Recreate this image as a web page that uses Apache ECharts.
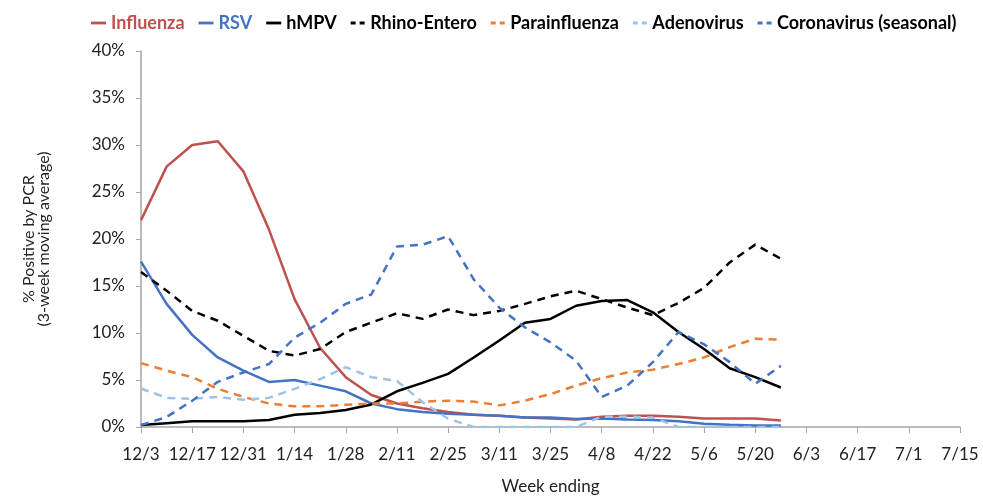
<!DOCTYPE html>
<html>
<head>
<meta charset="utf-8">
<script src="https://cdn.jsdelivr.net/npm/echarts@6/dist/echarts.min.js"></script>
<style>html,body{margin:0;padding:0;background:#fff;}#c{width:983px;height:500px;}</style>
</head>
<body>
<div id="c"></div>
<script>
var weeks = ['12/3','12/10','12/17','12/24','12/31','1/7','1/14','1/21','1/28','2/4','2/11','2/18','2/25','3/4','3/11','3/18','3/25','4/1','4/8','4/15','4/22','4/29','5/6','5/13','5/20','5/27','6/3','6/10','6/17','6/24','7/1','7/8','7/15'];
var yTicks = [0,5,10,15,20,25,30,35,40];
var influenza = [22.0,27.7,30.0,30.4,27.2,21.0,13.6,8.4,5.3,3.4,2.5,2.0,1.6,1.3,1.2,1.0,0.9,0.8,1.1,1.2,1.2,1.1,0.9,0.9,0.9,0.7];
var rsv = [17.6,13.1,9.8,7.4,6.0,4.8,5.0,4.4,3.8,2.5,1.9,1.6,1.4,1.3,1.2,1.0,1.0,0.85,0.9,0.8,0.74,0.6,0.35,0.25,0.17,0.17];
var hmpv = [0.2,0.4,0.6,0.6,0.6,0.74,1.3,1.5,1.8,2.4,3.8,4.7,5.65,7.4,9.2,11.1,11.5,12.9,13.4,13.5,12.2,10.1,8.3,6.25,5.3,4.2];
var rhino = [16.5,14.5,12.35,11.3,9.7,8.1,7.6,8.3,10.1,11.1,12.1,11.5,12.5,11.9,12.35,13.1,13.9,14.5,13.6,12.7,11.9,13.2,14.8,17.5,19.4,17.9];
var parainfluenza = [6.8,6.0,5.3,4.06,3.2,2.5,2.2,2.2,2.36,2.5,2.5,2.7,2.8,2.7,2.3,2.8,3.5,4.4,5.2,5.8,6.1,6.7,7.4,8.5,9.4,9.3];
var adenovirus = [4.1,3.1,3.0,3.2,2.9,3.1,4.06,5.1,6.36,5.3,4.9,2.65,0.88,0,0,0,0,0,1.1,1.1,1.0,0,0,0,0,0];
var coronavirus = [0.2,1.06,2.8,4.8,5.8,6.7,9.5,11.1,13.1,14.1,19.2,19.4,20.3,15.7,12.7,10.6,9.0,7.05,3.2,4.4,6.9,10.1,8.8,6.9,4.6,6.5];

var names = ['Influenza','RSV','hMPV','Rhino-Entero','Parainfluenza','Adenovirus','Coronavirus (seasonal)'];
var values = [influenza,rsv,hmpv,rhino,parainfluenza,adenovirus,coronavirus];
var colors = ['#C0504D','#4472C4','#000000','#000000','#ED7D31','#9DC3E6','#4472C4'];
var dashed = [false,false,false,true,true,true,true];
var legendTextColors = ['#C0504D','#4472C4','#000','#000','#000','#000','#000'];

var FONT = 'Lato, "Open Sans", sans-serif';
var SOLID_ICON = 'path://M0,0 L16,0 L16,3 L0,3 Z';
var DASH_ICON = 'path://M0,0 L5,0 L5,3 L0,3 Z M9,0 L14,0 L14,3 L9,3 Z';
var series = names.map(function(n,i){
  return {
    name: n, type: 'line', data: values[i], symbol: 'none', smooth: false,
    lineStyle: {color: colors[i], width: 2.5, type: dashed[i] ? [8,6] : 'solid'},
    itemStyle: {color: colors[i]}
  };
});

var chart = echarts.init(document.getElementById('c'));
chart.setOption({
  animation: false,
  backgroundColor: '#fff',
  color: colors,
  legend: {
    top: 9, left: 86, itemGap: 14, itemWidth: 15, itemHeight: 3,
    data: names.map(function(n,i){ return {name:n, icon: dashed[i] ? DASH_ICON : SOLID_ICON, textStyle:{color: legendTextColors[i]}}; }),
    textStyle: {fontFamily: FONT, fontSize: 18, fontWeight: 'bold', padding:[0,0,0,0]}
  },
  grid: {left: 141, right: 23, top: 51, bottom: 72, containLabel: false},
  xAxis: {
    type: 'category', data: weeks, boundaryGap: false,
    name: 'Week ending', nameLocation: 'middle', nameGap: 51,
    nameTextStyle: {fontFamily: FONT, fontSize: 17, color: '#222'},
    axisLine: {lineStyle: {color: '#a6a6a6', width: 1.5}},
    axisTick: {interval: 1, length: 6, lineStyle: {color: '#a6a6a6'}},
    axisLabel: {interval: 1, fontFamily: FONT, fontSize: 17, color: '#222', margin: 19}
  },
  yAxis: {
    type: 'value', min: 0, max: 40, interval: 5,
    name: '% Positive by PCR\n(3-week moving average)', nameLocation: 'middle', nameGap: 90, nameRotate: 90,
    nameTextStyle: {fontFamily: FONT, fontSize: 16, color: '#222', lineHeight: 15},
    axisLine: {show: true, lineStyle: {color: '#a6a6a6', width: 1.5}},
    axisTick: {show: true, length: 5, lineStyle: {color: '#a6a6a6'}},
    splitLine: {show: false},
    axisLabel: {fontFamily: FONT, fontSize: 17, color: '#222', margin: 16,
      formatter: function(v){ return yTicks.indexOf(v) >= 0 ? v + '%' : ''; }}
  },
  series: series
});
</script>
</body>
</html>
